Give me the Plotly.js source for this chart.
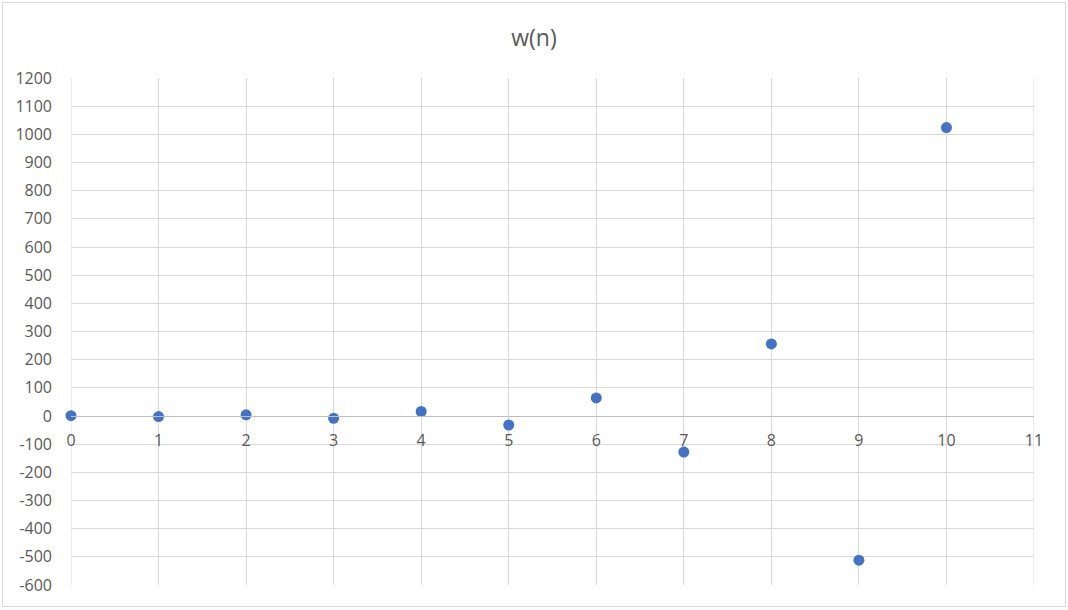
<!DOCTYPE html>
<html>
<head>
<meta charset="utf-8">
<script src="https://cdn.plot.ly/plotly-3.0.1.min.js"></script>
<style>
  html, body { margin: 0; padding: 0; background: #fff; }
  #wrap { position: relative; width: 1068px; height: 610px; }
  #chart { width: 1068px; height: 610px; }
  #frame { position: absolute; left: 2px; top: 2px; width: 1062px; height: 603px; border: 1px solid #D9D9D9; pointer-events: none; }
</style>
</head>
<body>
<div id="wrap">
  <div id="chart"></div>
  <div id="frame"></div>
</div>
<script>
const n = [0, 1, 2, 3, 4, 5, 6, 7, 8, 9, 10];
const w = [1, -2, 4, -8, 16, -32, 64, -128, 256, -512, 1024];
const xTicks = [0, 1, 2, 3, 4, 5, 6, 7, 8, 9, 10, 11];
const yTicks = [-600, -500, -400, -300, -200, -100, 0, 100, 200, 300, 400, 500, 600, 700, 800, 900, 1000, 1100, 1200];
const chartTitle = 'w(n)';

const xMin = 0, xMax = 11;
const yMin = -600, yMax = 1200;
const trace = {
  x: n, y: w,
  type: 'scatter', mode: 'markers',
  cliponaxis: false,
  marker: { color: '#4472C4', size: 11 },
  hoverinfo: 'x+y'
};

const font = "'Open Sans', 'Liberation Sans', sans-serif";
const layout = {
  width: 1068, height: 610,
  margin: { l: 71, r: 34, t: 78, b: 25 },
  paper_bgcolor: '#fff', plot_bgcolor: '#fff',
  showlegend: false,
  title: { text: chartTitle, font: { family: font, size: 23, color: '#595959' }, x: 0.5, xanchor: 'center', y: 0.937, yanchor: 'middle' },
  xaxis: {
    range: [xMin, xMax], tickvals: xTicks, ticktext: xTicks.map(String),
    showgrid: true, gridcolor: '#D9D9D9', gridwidth: 1,
    zeroline: false, showline: true, linecolor: '#BFBFBF', linewidth: 1,
    anchor: 'free', position: (0 - yMin) / (yMax - yMin),
    ticks: '', tickfont: { family: font, size: 16, color: '#595959' },
    ticklabelstandoff: 10
  },
  yaxis: {
    range: [yMin, yMax], tickvals: yTicks, ticktext: yTicks.map(String),
    showgrid: true, gridcolor: '#D9D9D9', gridwidth: 1,
    zeroline: false, showline: false,
    ticks: '', tickfont: { family: font, size: 16, color: '#595959' },
    ticklabelstandoff: 18
  },
  shapes: [xMin, xMax].map(v => ({
    type: 'line', xref: 'x', yref: 'y', x0: v, x1: v, y0: yMin, y1: yMax,
    line: { color: '#D9D9D9', width: 1 }, layer: 'below'
  }))
};

Plotly.newPlot('chart', [trace], layout, { displayModeBar: false, staticPlot: true });
</script>
</body>
</html>
